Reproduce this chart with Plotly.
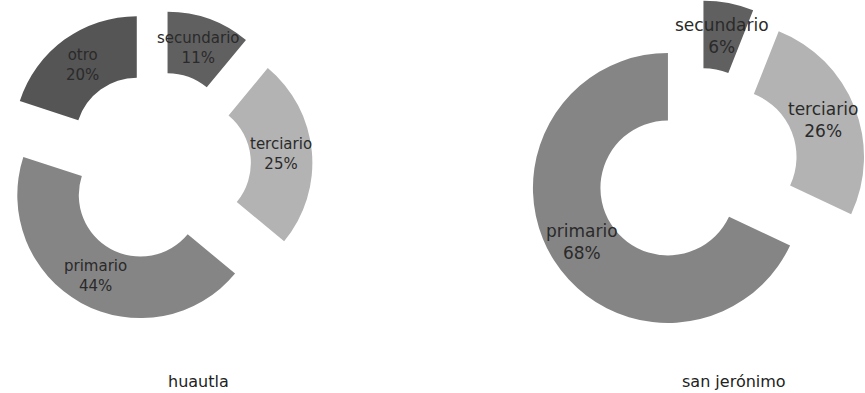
import math
import plotly.graph_objects as go

labels_huautla = ['secundario', 'terciario', 'primario', 'otro']
values_huautla = [11, 25, 44, 20]
colors_huautla = ['#606060', '#b3b3b3', '#858585', '#555555']

labels_sanjer = ['secundario', 'terciario', 'primario']
values_sanjer = [6, 26, 68]
colors_sanjer = ['#606060', '#b3b3b3', '#858585']

titles = ['huautla', 'san jerónimo']

# figure is a bit wider than the window so the right donut runs off the edge
W, H = 880, 393
FONT = 'DejaVu Sans'
HOLE = 0.5

# (center x, center y, radius, pull) in pixels for each donut
donuts = [
    dict(labels=labels_huautla, values=values_huautla, colors=colors_huautla,
         cx=156.3, cy=166, r=123, pull=0.27, size=15),
    dict(labels=labels_sanjer, values=values_sanjer, colors=colors_sanjer,
         cx=697, cy=169.5, r=135, pull=0.255, size=17),
]

fig = go.Figure()
for d in donuts:
    box = d['r'] * (1 + d['pull'])
    fig.add_trace(go.Pie(
        labels=d['labels'],
        values=d['values'],
        marker=dict(colors=d['colors']),
        hole=HOLE,
        pull=d['pull'],
        sort=False,
        direction='clockwise',
        rotation=0,
        textinfo='none',
        domain=dict(x=[max(0, (d['cx'] - box) / W), min(1, (d['cx'] + box) / W)],
                    y=[max(0, 1 - (d['cy'] + box) / H), min(1, 1 - (d['cy'] - box) / H)]),
        showlegend=False,
        hoverinfo='label+percent',
    ))
    # slice labels at the middle of each (pulled) ring segment
    total = sum(d['values'])
    start = 0
    for lab, v in zip(d['labels'], d['values']):
        mid = (start + v / 2) / total * 2 * math.pi
        start += v
        dist = d['r'] * d['pull'] + d['r'] * (1 + HOLE) / 2
        px = d['cx'] + dist * math.sin(mid)
        py = d['cy'] - dist * math.cos(mid)
        fig.add_annotation(text=f'{lab}<br>{v}%', x=px / W, y=1 - py / H,
                           xref='paper', yref='paper', showarrow=False,
                           xanchor='center', yanchor='middle',
                           font=dict(family=FONT, size=d['size'], color='#2a2a2a'))

# names under each donut
fig.add_annotation(text=titles[0], x=198.5 / W, y=1 - 381 / H, xref='paper', yref='paper',
                   xanchor='center', yanchor='middle', showarrow=False,
                   font=dict(family=FONT, size=16, color='#222'))
fig.add_annotation(text=titles[1], x=734 / W, y=1 - 381 / H, xref='paper', yref='paper',
                   xanchor='center', yanchor='middle', showarrow=False,
                   font=dict(family=FONT, size=16, color='#222'))

fig.update_layout(
    width=W,
    height=H,
    margin=dict(l=0, r=0, t=0, b=0),
    paper_bgcolor='white',
)
fig.write_html("out.html", config=dict(displayModeBar=False),
               post_script="document.body.style.margin='0';document.body.style.overflow='hidden';")
